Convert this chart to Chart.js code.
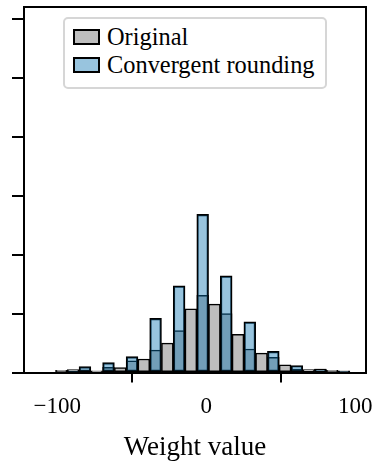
<!DOCTYPE html>
<html>
<head>
<meta charset="utf-8">
<script src="https://cdn.jsdelivr.net/npm/chart.js@4"></script>
<style>
  body { margin: 0; background: #fff; }
  #wrap { position: relative; width: 377px; height: 467px; }
  #legend {
    position: absolute; left: 63px; top: 17px; width: 264px; height: 72px;
    box-sizing: border-box; border: 2px solid #d6d6d6; border-radius: 5px;
    background: #fff; padding: 4px 0 0 8px;
    font-family: "Liberation Serif", "Times New Roman", "DejaVu Serif", serif;
    font-size: 24.4px; color: #000;
  }
  .item { display: flex; align-items: center; height: 28px; white-space: nowrap; }
  .swatch { width: 27px; height: 16px; box-sizing: border-box; border: 2px solid #000; margin-right: 7px; }
</style>
</head>
<body>
<div id="wrap">
  <canvas id="chart" width="377" height="467"></canvas>
  <div id="legend"></div>
</div>
<script>
// histogram bin centres (weight value) and bar heights
const binCenters = [-97.2, -89.3, -81.4, -73.5, -65.6, -57.7, -49.8, -41.9, -34.0, -26.1,
    -18.2, -10.3, -2.4, 5.5, 13.4, 21.3, 29.2, 37.1, 45.0, 52.9, 60.8, 68.7, 76.6, 84.5, 92.4];
const originalCounts = [0.04, 0.05, 0.04, 0.03, 0.09, 0.085, 0.20, 0.23, 0.38, 0.50,
    0.71, 1.08, 1.31, 1.16, 1.00, 0.65, 0.40, 0.33, 0.26, 0.13, 0.06, 0.05, 0.06, 0.04, 0.03];
const roundedCounts = [0, 0.03, 0.10, 0, 0.17, 0, 0.27, 0, 0.92, 0,
    1.47, 0, 2.68, 0, 1.64, 0, 0.86, 0, 0.36, 0, 0.12, 0, 0.06, 0, 0.02];
const seriesLabels = ['Original', 'Convergent rounding'];
const xTicks = [-100, 0, 100];
const yTicks = [0, 1, 2, 3, 4, 5, 6];

const serif = '"Liberation Serif", "Times New Roman", "DejaVu Serif", serif';

function points(values) {
    return binCenters.map((x, i) => ({ x: x, y: values[i] || null }));
}

// top and right spines
const frame = {
    id: 'frame',
    afterDraw(chart) {
        const { ctx, chartArea: a } = chart;
        ctx.save();
        ctx.strokeStyle = '#000';
        ctx.lineWidth = 2;
        ctx.beginPath();
        ctx.moveTo(a.left, a.top);
        ctx.lineTo(a.right, a.top);
        ctx.lineTo(a.right, a.bottom);
        ctx.stroke();
        ctx.restore();
    }
};

const axisGrid = len => ({
    drawOnChartArea: false,
    drawTicks: true,
    tickLength: len,
    color: '#000',
    lineWidth: 2
});

const chart = new Chart(document.getElementById('chart'), {
    type: 'bar',
    data: {
        datasets: [{
            label: seriesLabels[0],
            data: points(originalCounts),
            backgroundColor: '#bebebe',
            borderColor: '#000',
            borderWidth: 1.5,
            borderSkipped: false,
            grouped: false,
            order: 2,
            barPercentage: 1,
            categoryPercentage: 1
        }, {
            label: seriesLabels[1],
            data: points(roundedCounts),
            backgroundColor: 'rgba(10, 114, 176, 0.42)',
            borderColor: '#000',
            borderWidth: 1.5,
            borderSkipped: false,
            grouped: false,
            order: 1,
            barPercentage: 1,
            categoryPercentage: 1
        }]
    },
    options: {
        responsive: false,
        animation: false,
        devicePixelRatio: 1,
        layout: { padding: { left: 12, right: 11, top: 7, bottom: 3 } },
        plugins: {
            legend: { display: false },
            tooltip: { enabled: false }
        },
        scales: {
            x: {
                type: 'linear',
                min: -122.3,
                max: 107.2,
                offset: false,
                grid: axisGrid(10),
                border: { display: true, color: '#000', width: 2 },
                afterBuildTicks: s => { s.ticks = xTicks.map(v => ({ value: v })); },
                ticks: {
                    color: '#000',
                    padding: 4,
                    font: { family: serif, size: 23, lineHeight: 1.74 },
                    callback: v => String(v).replace('-', '\u2212')
                },
                title: {
                    display: true,
                    text: 'Weight value',
                    color: '#000',
                    padding: { top: 1, bottom: 0 },
                    font: { family: serif, size: 27 }
                }
            },
            y: {
                min: 0,
                max: 6.196,
                grid: axisGrid(12),
                border: { display: true, color: '#000', width: 2 },
                afterBuildTicks: s => { s.ticks = yTicks.map(v => ({ value: v })); },
                ticks: { display: false }
            }
        }
    },
    plugins: [frame]
});

// legend box drawn as html
const legend = document.getElementById('legend');
chart.data.datasets.forEach(ds => {
    const row = document.createElement('div');
    row.className = 'item';
    const sw = document.createElement('span');
    sw.className = 'swatch';
    sw.style.background = ds.backgroundColor;
    row.appendChild(sw);
    row.appendChild(document.createTextNode(ds.label));
    legend.appendChild(row);
});
</script>
</body>
</html>
